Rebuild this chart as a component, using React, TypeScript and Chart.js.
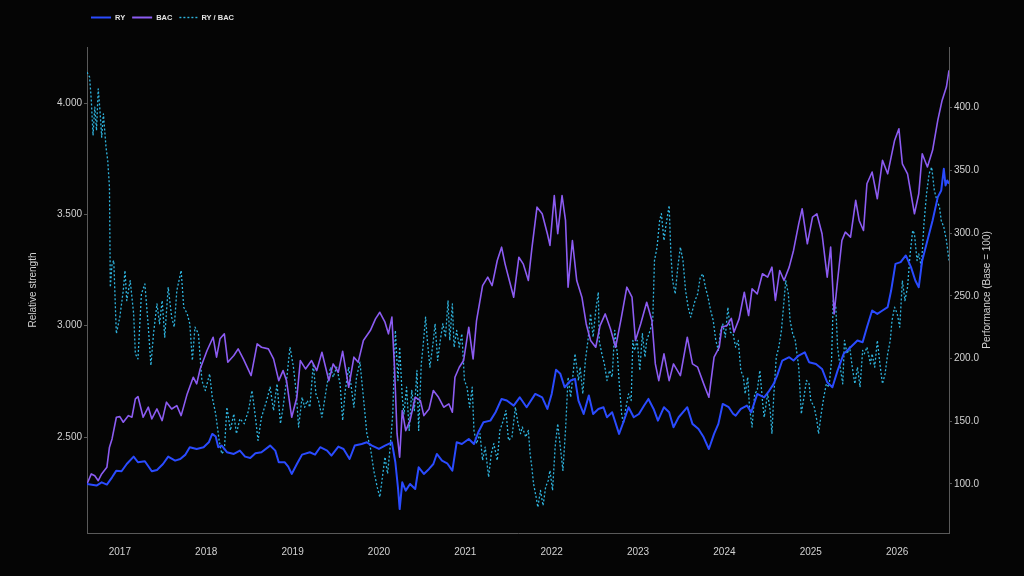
import { useEffect, useRef } from 'react'
import { Chart, registerables } from 'chart.js'
import type { Plugin } from 'chart.js'

Chart.register(...registerables)

// RY performance (base = 100), right axis
const ryYears = [
  2016.62, 2016.73, 2016.79, 2016.85, 2016.91, 2016.96, 2017.02, 2017.08, 2017.16, 2017.21,
  2017.29, 2017.37, 2017.43, 2017.5, 2017.56, 2017.64, 2017.7, 2017.76, 2017.81, 2017.89,
  2017.97, 2018.03, 2018.07, 2018.11, 2018.14, 2018.18, 2018.24, 2018.32, 2018.39, 2018.45,
  2018.51, 2018.57, 2018.64, 2018.74, 2018.8, 2018.84, 2018.91, 2018.95, 2018.99, 2019.05,
  2019.11, 2019.2, 2019.26, 2019.32, 2019.4, 2019.45, 2019.53, 2019.59, 2019.66, 2019.72,
  2019.8, 2019.86, 2019.92, 2020.0, 2020.07, 2020.15, 2020.19, 2020.22, 2020.24, 2020.27,
  2020.31, 2020.36, 2020.42, 2020.46, 2020.52, 2020.58, 2020.63, 2020.67, 2020.73, 2020.79,
  2020.85, 2020.9, 2020.96, 2021.04, 2021.1, 2021.15, 2021.21, 2021.29, 2021.35, 2021.42,
  2021.48, 2021.56, 2021.63, 2021.71, 2021.81, 2021.89, 2021.95, 2022.0, 2022.05, 2022.1,
  2022.15, 2022.22, 2022.27, 2022.31, 2022.37, 2022.43, 2022.48, 2022.54, 2022.6, 2022.64,
  2022.7, 2022.78, 2022.83, 2022.89, 2022.95, 2023.01, 2023.07, 2023.12, 2023.18, 2023.23,
  2023.3, 2023.36, 2023.41, 2023.47, 2023.57, 2023.63, 2023.7, 2023.76, 2023.82, 2023.88,
  2023.93, 2023.98, 2024.05, 2024.1, 2024.13, 2024.19, 2024.26, 2024.31, 2024.38, 2024.46,
  2024.52, 2024.57, 2024.61, 2024.67, 2024.75, 2024.8, 2024.86, 2024.93, 2024.98, 2025.06,
  2025.13, 2025.19, 2025.25, 2025.31, 2025.38, 2025.46, 2025.54, 2025.6, 2025.65, 2025.71,
  2025.77, 2025.83, 2025.89, 2025.93, 2025.98, 2026.04, 2026.1, 2026.16, 2026.21, 2026.25,
  2026.29, 2026.35, 2026.41, 2026.47, 2026.51, 2026.54, 2026.56, 2026.58, 2026.6,
]
const ryValues = [
  100, 98.7, 101.3, 99.5, 105.3, 110.6, 110.1, 115.9, 121.8, 117.3,
  118.1, 110.1, 111.2, 115.9, 121.8, 118.6, 119.9, 123.4, 129.3, 127.9,
  129.3, 133.2, 139.9, 137.8, 129.3, 130.6, 125.3, 123.9, 126.6, 121.8,
  120.7, 124.5, 125.3, 130.6, 126.6, 117.3, 117.3, 113.8, 108.0, 115.9,
  123.4, 125.3, 123.4, 129.3, 126.6, 122.6, 129.8, 127.9, 119.9, 130.6,
  131.9, 133.2, 130.6, 127.9, 130.6, 133.2, 117.3, 97.3, 80.0, 101.3,
  94.7, 100.0, 96.0, 113.3, 108.0, 112.0, 115.9, 123.9, 118.6, 116.5,
  110.6, 133.2, 131.9, 135.9, 131.9, 141.2, 149.2, 150.5, 157.2, 167.8,
  166.5, 162.5, 169.1, 161.2, 171.8, 169.1, 159.8, 171.8, 191.0, 187.8,
  177.1, 182.5, 183.8, 166.5, 155.8, 170.5, 155.8, 159.8, 161.2, 153.2,
  157.2, 139.9, 149.2, 161.2, 153.2, 155.8, 162.5, 167.8, 159.8, 150.5,
  161.2, 157.2, 145.2, 153.2, 161.2, 147.9, 143.9, 137.2, 127.9, 139.9,
  147.9, 163.8, 161.2, 156.0, 154.5, 159.8, 162.5, 157.2, 171.8, 169.1,
  174.5, 179.8, 186.4, 198.4, 201.1, 198.4, 202.4, 205.0, 197.1, 195.7,
  191.7, 181.1, 177.1, 190.4, 203.7, 209.0, 214.4, 213.0, 225.0, 238.3,
  235.6, 238.3, 241.0, 254.2, 275.5, 276.9, 282.2, 272.9, 262.2, 256.9,
  278.2, 294.1, 310.1, 328.7, 334.0, 351.3, 338.0, 342.0, 339.4,
]

// BAC performance (base = 100), right axis
const bacYears = [
  2016.62, 2016.67, 2016.71, 2016.75, 2016.79, 2016.85, 2016.88, 2016.91, 2016.96, 2017.0,
  2017.04, 2017.1, 2017.14, 2017.18, 2017.21, 2017.27, 2017.33, 2017.37, 2017.43, 2017.49,
  2017.54, 2017.6, 2017.66, 2017.71, 2017.78, 2017.85, 2017.89, 2017.93, 2018.01, 2018.08,
  2018.12, 2018.16, 2018.21, 2018.25, 2018.32, 2018.37, 2018.43, 2018.52, 2018.59, 2018.64,
  2018.72, 2018.78, 2018.84, 2018.89, 2018.93, 2018.99, 2019.05, 2019.09, 2019.15, 2019.22,
  2019.28, 2019.34, 2019.42, 2019.47, 2019.53, 2019.58, 2019.65, 2019.71, 2019.76, 2019.82,
  2019.9, 2019.96, 2020.01, 2020.07, 2020.11, 2020.15, 2020.18, 2020.21, 2020.24, 2020.27,
  2020.31, 2020.36, 2020.42, 2020.48, 2020.52, 2020.58, 2020.63, 2020.69, 2020.75, 2020.81,
  2020.85, 2020.88, 2020.93, 2020.98, 2021.04, 2021.09, 2021.13, 2021.2, 2021.26, 2021.31,
  2021.37, 2021.42, 2021.46, 2021.51, 2021.56, 2021.62, 2021.67, 2021.73, 2021.77, 2021.83,
  2021.89, 2021.95, 2021.98, 2022.03, 2022.07, 2022.12, 2022.16, 2022.19, 2022.24, 2022.29,
  2022.35, 2022.4, 2022.45, 2022.51, 2022.56, 2022.62, 2022.68, 2022.74, 2022.8, 2022.87,
  2022.93, 2022.97, 2023.03, 2023.1, 2023.16, 2023.2, 2023.24, 2023.3, 2023.36, 2023.41,
  2023.49, 2023.57, 2023.63, 2023.69, 2023.76, 2023.82, 2023.88, 2023.94, 2023.97, 2024.03,
  2024.08, 2024.11, 2024.17, 2024.23, 2024.28, 2024.32, 2024.38, 2024.44, 2024.5, 2024.55,
  2024.59, 2024.64, 2024.69, 2024.75, 2024.8, 2024.86, 2024.9, 2024.96, 2025.02, 2025.07,
  2025.13, 2025.19, 2025.23, 2025.27, 2025.31, 2025.36, 2025.4, 2025.46, 2025.52, 2025.56,
  2025.61, 2025.65, 2025.71, 2025.77, 2025.83, 2025.89, 2025.93, 2025.97, 2026.02, 2026.06,
  2026.12, 2026.18, 2026.2, 2026.25, 2026.29, 2026.35, 2026.41, 2026.47, 2026.52, 2026.57,
  2026.6,
]
const bacValues = [
  100, 108.0, 106.6, 102.6, 108.0, 113.3, 129.3, 135.9, 153.2, 153.7,
  149.2, 154.5, 153.2, 167.8, 169.7, 153.2, 161.2, 151.9, 159.8, 150.5,
  165.2, 159.8, 162.5, 154.5, 171.8, 185.1, 179.8, 191.7, 206.4, 217.0,
  201.1, 215.7, 219.7, 197.1, 202.4, 207.7, 199.7, 186.4, 211.7, 209.0,
  207.7, 199.7, 182.4, 190.4, 182.4, 153.2, 169.1, 198.4, 191.7, 198.4,
  190.4, 205.0, 182.4, 195.7, 189.1, 205.8, 177.1, 201.1, 197.1, 214.4,
  222.3, 231.6, 236.9, 229.0, 219.7, 233.0, 193.1, 139.9, 121.3, 158.5,
  142.5, 150.5, 169.1, 166.5, 154.5, 159.8, 174.5, 169.1, 161.2, 163.8,
  157.2, 185.1, 193.1, 198.4, 225.0, 199.7, 230.3, 258.2, 264.9, 258.2,
  278.2, 288.8, 275.5, 262.2, 248.9, 280.8, 275.5, 262.2, 287.5, 320.7,
  315.4, 299.5, 290.2, 330.0, 299.5, 330.0, 310.1, 256.9, 294.1, 262.2,
  248.9, 227.6, 214.4, 209.0, 226.3, 235.6, 223.7, 209.0, 230.3, 256.9,
  248.9, 214.4, 227.6, 244.9, 230.3, 195.7, 182.4, 203.7, 182.4, 195.7,
  186.4, 217.0, 195.7, 193.1, 179.8, 169.1, 201.1, 209.0, 225.0, 226.3,
  232.0, 221.0, 231.6, 252.9, 234.3, 255.6, 251.6, 267.6, 264.9, 272.9,
  246.3, 270.2, 262.2, 272.9, 286.2, 307.4, 319.4, 291.5, 312.8, 315.4,
  299.5, 264.9, 288.8, 235.6, 262.2, 294.1, 300.8, 296.8, 326.1, 310.1,
  302.1, 339.4, 348.7, 327.4, 358.0, 347.3, 360.6, 373.9, 383.2, 355.3,
  347.3, 323.4, 315.4, 331.4, 363.3, 352.7, 366.0, 389.9, 405.8, 416.5,
  429.8,
]

// RY / BAC relative strength, left axis
const ratioYears = [
  2016.62, 2016.65, 2016.67, 2016.69, 2016.71, 2016.73, 2016.75, 2016.77, 2016.79, 2016.81,
  2016.84, 2016.86, 2016.88, 2016.89, 2016.91, 2016.93, 2016.95, 2016.96, 2017.0, 2017.04,
  2017.06, 2017.08, 2017.12, 2017.16, 2017.18, 2017.21, 2017.25, 2017.29, 2017.33, 2017.36,
  2017.39, 2017.43, 2017.46, 2017.49, 2017.52, 2017.56, 2017.6, 2017.63, 2017.66, 2017.71,
  2017.74, 2017.78, 2017.81, 2017.84, 2017.87, 2017.91, 2017.95, 2017.99, 2018.04, 2018.07,
  2018.11, 2018.15, 2018.18, 2018.21, 2018.24, 2018.28, 2018.32, 2018.35, 2018.39, 2018.44,
  2018.49, 2018.53, 2018.57, 2018.6, 2018.64, 2018.7, 2018.74, 2018.78, 2018.82, 2018.86,
  2018.89, 2018.93, 2018.97, 2019.01, 2019.04, 2019.07, 2019.11, 2019.14, 2019.17, 2019.2,
  2019.24, 2019.27, 2019.3, 2019.34, 2019.37, 2019.4, 2019.44, 2019.47, 2019.51, 2019.55,
  2019.58, 2019.61, 2019.65, 2019.69, 2019.71, 2019.74, 2019.78, 2019.82, 2019.86, 2019.9,
  2019.94, 2019.98, 2020.01, 2020.03, 2020.07, 2020.1, 2020.13, 2020.16, 2020.19, 2020.22,
  2020.24, 2020.27, 2020.29, 2020.32, 2020.35, 2020.38, 2020.41, 2020.44, 2020.46, 2020.49,
  2020.51, 2020.54, 2020.56, 2020.59, 2020.63, 2020.65, 2020.68, 2020.71, 2020.74, 2020.77,
  2020.8, 2020.82, 2020.85, 2020.87, 2020.9, 2020.93, 2020.96, 2020.99, 2021.02, 2021.05,
  2021.08, 2021.1, 2021.13, 2021.17, 2021.2, 2021.23, 2021.27, 2021.3, 2021.33, 2021.37,
  2021.4, 2021.44, 2021.47, 2021.5, 2021.54, 2021.58, 2021.61, 2021.64, 2021.66, 2021.7,
  2021.73, 2021.75, 2021.77, 2021.79, 2021.82, 2021.84, 2021.87, 2021.9, 2021.93, 2021.96,
  2021.98, 2022.01, 2022.04, 2022.07, 2022.1, 2022.13, 2022.16, 2022.19, 2022.22, 2022.24,
  2022.27, 2022.31, 2022.33, 2022.36, 2022.39, 2022.42, 2022.45, 2022.48, 2022.51, 2022.54,
  2022.55, 2022.58, 2022.61, 2022.64, 2022.67, 2022.7, 2022.73, 2022.76, 2022.78, 2022.81,
  2022.83, 2022.86, 2022.89, 2022.92, 2022.94, 2022.96, 2022.99, 2023.02, 2023.05, 2023.08,
  2023.1, 2023.14, 2023.17, 2023.19, 2023.22, 2023.25, 2023.27, 2023.3, 2023.32, 2023.36,
  2023.38, 2023.4, 2023.43, 2023.46, 2023.49, 2023.52, 2023.55, 2023.58, 2023.61, 2023.63,
  2023.66, 2023.69, 2023.72, 2023.75, 2023.78, 2023.81, 2023.84, 2023.87, 2023.9, 2023.93,
  2023.95, 2023.98, 2024.01, 2024.04, 2024.07, 2024.1, 2024.13, 2024.16, 2024.19, 2024.22,
  2024.24, 2024.27, 2024.29, 2024.32, 2024.35, 2024.38, 2024.41, 2024.44, 2024.46, 2024.5,
  2024.53, 2024.55, 2024.57, 2024.6, 2024.63, 2024.66, 2024.69, 2024.71, 2024.74, 2024.76,
  2024.79, 2024.82, 2024.86, 2024.89, 2024.92, 2024.95, 2024.98, 2025.0, 2025.04, 2025.07,
  2025.09, 2025.12, 2025.15, 2025.18, 2025.21, 2025.24, 2025.26, 2025.29, 2025.31, 2025.34,
  2025.37, 2025.39, 2025.42, 2025.45, 2025.48, 2025.51, 2025.54, 2025.57, 2025.6, 2025.62,
  2025.65, 2025.69, 2025.71, 2025.74, 2025.77, 2025.8, 2025.83, 2025.86, 2025.89, 2025.92,
  2025.94, 2025.97, 2026.0, 2026.03, 2026.06, 2026.09, 2026.12, 2026.15, 2026.18, 2026.2,
  2026.23, 2026.25, 2026.28, 2026.31, 2026.34, 2026.37, 2026.4, 2026.43, 2026.46, 2026.49,
  2026.51, 2026.54, 2026.57, 2026.6,
]
const ratioValues = [
  4.139, 4.117, 4.012, 3.855, 3.982, 3.877, 4.064, 3.967, 3.847, 3.952,
  3.802, 3.742, 3.623, 3.173, 3.278, 3.293, 3.069, 2.964, 3.039, 3.158,
  3.248, 3.113, 3.203, 3.054, 2.874, 2.851, 3.143, 3.188, 2.994, 2.822,
  2.964, 3.098, 3.009, 3.113, 2.949, 3.173, 3.039, 2.994, 3.158, 3.248,
  3.083, 3.054, 3.009, 2.844, 2.994, 2.964, 2.754, 2.709, 2.784, 2.679,
  2.604, 2.485, 2.425, 2.44, 2.634, 2.53, 2.604, 2.515, 2.582, 2.56,
  2.619, 2.709, 2.589, 2.485, 2.589, 2.664, 2.724, 2.619, 2.739, 2.56,
  2.634, 2.754, 2.904, 2.814, 2.709, 2.545, 2.679, 2.634, 2.664, 2.634,
  2.829, 2.694, 2.664, 2.589, 2.664, 2.739, 2.814, 2.769, 2.814, 2.739,
  2.575, 2.709, 2.814, 2.694, 2.634, 2.769, 2.836, 2.679, 2.515, 2.455,
  2.35, 2.275, 2.23, 2.29, 2.41, 2.335, 2.455, 2.604, 2.979, 2.754,
  2.904, 2.679, 2.604, 2.724, 2.53, 2.709, 2.619, 2.799, 2.53, 2.829,
  2.904, 3.039, 2.934, 2.814, 2.934, 3.009, 2.844, 2.934, 3.009, 2.949,
  3.113, 2.934, 3.098, 2.904, 2.979, 2.904, 2.964, 2.754, 2.724, 2.634,
  2.724, 2.53, 2.47, 2.515, 2.395, 2.455, 2.32, 2.425, 2.47, 2.395,
  2.53, 2.575, 2.619, 2.485, 2.5, 2.634, 2.56, 2.515, 2.545, 2.5,
  2.53, 2.425, 2.365, 2.29, 2.23, 2.185, 2.26, 2.192, 2.275, 2.305,
  2.35, 2.26, 2.455, 2.56, 2.455, 2.35, 2.53, 2.769, 2.679, 2.754,
  2.874, 2.754, 2.814, 2.694, 2.844, 2.934, 3.054, 2.949, 3.069, 3.151,
  2.934, 2.874, 2.829, 2.754, 2.799, 2.769, 2.979, 2.874, 2.754, 2.604,
  2.56, 2.634, 2.694, 2.664, 2.934, 2.889, 2.934, 2.799, 2.964, 2.859,
  2.934, 2.979, 3.024, 3.293, 3.353, 3.473, 3.503, 3.383, 3.443, 3.54,
  3.323, 3.203, 3.143, 3.263, 3.353, 3.293, 3.158, 3.083, 3.039, 3.069,
  3.113, 3.143, 3.218, 3.233, 3.173, 3.128, 3.069, 3.024, 2.934, 2.889,
  2.964, 3.009, 2.949, 3.083, 2.97, 2.964, 2.904, 2.934, 2.799, 2.769,
  2.694, 2.769, 2.634, 2.545, 2.694, 2.709, 2.799, 2.664, 2.589, 2.694,
  2.619, 2.515, 2.679, 2.859, 2.904, 2.979, 3.113, 3.203, 3.143, 3.024,
  2.964, 2.934, 2.814, 2.604, 2.679, 2.754, 2.739, 2.664, 2.634, 2.575,
  2.515, 2.604, 2.679, 2.739, 2.724, 2.844, 3.113, 3.083, 2.904, 2.814,
  2.739, 2.934, 2.874, 2.904, 2.814, 2.739, 2.814, 2.724, 2.889, 2.874,
  2.904, 2.829, 2.874, 2.814, 2.934, 2.829, 2.739, 2.784, 2.874, 2.934,
  3.024, 3.083, 3.054, 2.994, 3.203, 3.113, 3.173, 3.323, 3.428, 3.413,
  3.293, 3.323, 3.263, 3.458, 3.593, 3.683, 3.712, 3.608, 3.563, 3.533,
  3.473, 3.443, 3.383, 3.293,
]

const yearTicks = [2017, 2018, 2019, 2020, 2021, 2022, 2023, 2024, 2025, 2026]
const strengthTicks = [2.5, 3.0, 3.5, 4.0]
const performanceTicks = [100, 150, 200, 250, 300, 350, 400]

const seriesLabels = ['RY', 'BAC', 'RY / BAC']
const seriesColors = ['#2a4bff', '#8c5cf2', '#2fb4de']

const FONT = '"Liberation Sans", Arial, sans-serif'
const TEXT = '#d2d2d2'
const AXIS = '#5a5a5a'
const BG = '#050505'

const toPoints = (xs: number[], ys: number[]) => xs.map((x, i) => ({ x, y: ys[i] }))

// background, rotated axis titles and the small legend up top
const decorations: Plugin<'line'> = {
  id: 'decorations',
  beforeDraw(chart) {
    const { ctx, width, height } = chart
    ctx.save()
    ctx.fillStyle = BG
    ctx.fillRect(0, 0, width, height)
    ctx.restore()
  },
  afterDraw(chart) {
    const { ctx, chartArea } = chart
    const midY = (chartArea.top + chartArea.bottom) / 2
    ctx.save()
    ctx.fillStyle = TEXT
    ctx.font = `10px ${FONT}`
    ctx.textAlign = 'center'
    ctx.textBaseline = 'middle'
    for (const [x, text] of [[33, 'Relative strength'], [987, 'Performance (Base = 100)']] as [number, string][]) {
      ctx.save()
      ctx.translate(x, midY)
      ctx.rotate(-Math.PI / 2)
      ctx.fillText(text, 0, 0)
      ctx.restore()
    }

    // legend
    const y = 17.5
    let x = 91
    ctx.font = `bold 7.5px ${FONT}`
    ctx.textAlign = 'left'
    seriesLabels.forEach((label, i) => {
      const len = i === 2 ? 18 : 20
      ctx.strokeStyle = seriesColors[i]
      ctx.lineWidth = i === 2 ? 1.4 : 2
      ctx.setLineDash(i === 2 ? [2, 2] : [])
      ctx.beginPath()
      ctx.moveTo(x, y)
      ctx.lineTo(x + len, y)
      ctx.stroke()
      ctx.setLineDash([])
      ctx.fillStyle = '#e4e4e4'
      ctx.fillText(label, x + len + 4, y)
      x += len + 4 + ctx.measureText(label).width + 7
    })
    ctx.restore()
  },
}

export default function App() {
  const canvasRef = useRef<HTMLCanvasElement>(null)

  useEffect(() => {
    document.body.style.margin = '0'
    document.body.style.background = BG
    if (!canvasRef.current) return

    const tickFont = { family: FONT, size: 10 }

    const chart = new Chart(canvasRef.current, {
      type: 'line',
      data: {
        datasets: [
          {
            label: seriesLabels[0],
            data: toPoints(ryYears, ryValues),
            borderColor: seriesColors[0],
            borderWidth: 2,
            yAxisID: 'perf',
          },
          {
            label: seriesLabels[1],
            data: toPoints(bacYears, bacValues),
            borderColor: seriesColors[1],
            borderWidth: 1.6,
            yAxisID: 'perf',
          },
          {
            label: seriesLabels[2],
            data: toPoints(ratioYears, ratioValues),
            borderColor: seriesColors[2],
            borderWidth: 1.3,
            borderDash: [2, 2],
            yAxisID: 'strength',
          },
        ],
      },
      options: {
        responsive: false,
        animation: false,
        parsing: false,
        layout: { padding: { top: 47, left: 0, right: 0, bottom: 0 } },
        elements: {
          point: { radius: 0 },
          line: { tension: 0, borderJoinStyle: 'round' },
        },
        plugins: {
          legend: { display: false },
          tooltip: { enabled: false },
        },
        scales: {
          x: {
            type: 'linear',
            min: 2016.62,
            max: 2026.6,
            afterBuildTicks: (axis) => {
              axis.ticks = yearTicks.map(value => ({ value }))
            },
            afterFit: (axis) => {
              axis.height = 43
            },
            ticks: {
              color: TEXT,
              font: tickFont,
              padding: 5,
              autoSkip: false,
              maxRotation: 0,
              callback: (v) => String(v),
            },
            grid: { display: false },
            border: { display: true, color: AXIS },
          },
          strength: {
            type: 'linear',
            position: 'left',
            min: 2.069,
            max: 4.252,
            afterBuildTicks: (axis) => {
              axis.ticks = strengthTicks.map(value => ({ value }))
            },
            afterFit: (axis) => {
              axis.width = 87
            },
            ticks: {
              color: TEXT,
              font: tickFont,
              padding: 2,
              callback: (v) => Number(v).toFixed(3),
            },
            grid: { display: true, drawOnChartArea: false, drawTicks: true, tickLength: 3, color: AXIS },
            border: { display: true, color: AXIS },
          },
          perf: {
            type: 'linear',
            position: 'right',
            min: 60.9,
            max: 448.4,
            afterBuildTicks: (axis) => {
              axis.ticks = performanceTicks.map(value => ({ value }))
            },
            afterFit: (axis) => {
              axis.width = 75
            },
            ticks: {
              color: TEXT,
              font: tickFont,
              padding: 2,
              callback: (v) => Number(v).toFixed(1),
            },
            grid: { display: true, drawOnChartArea: false, drawTicks: true, tickLength: 3, color: AXIS },
            border: { display: true, color: AXIS },
          },
        },
      },
      plugins: [decorations],
    })

    return () => chart.destroy()
  }, [])

  return <canvas ref={canvasRef} width={1024} height={576} style={{ display: 'block' }} />
}
